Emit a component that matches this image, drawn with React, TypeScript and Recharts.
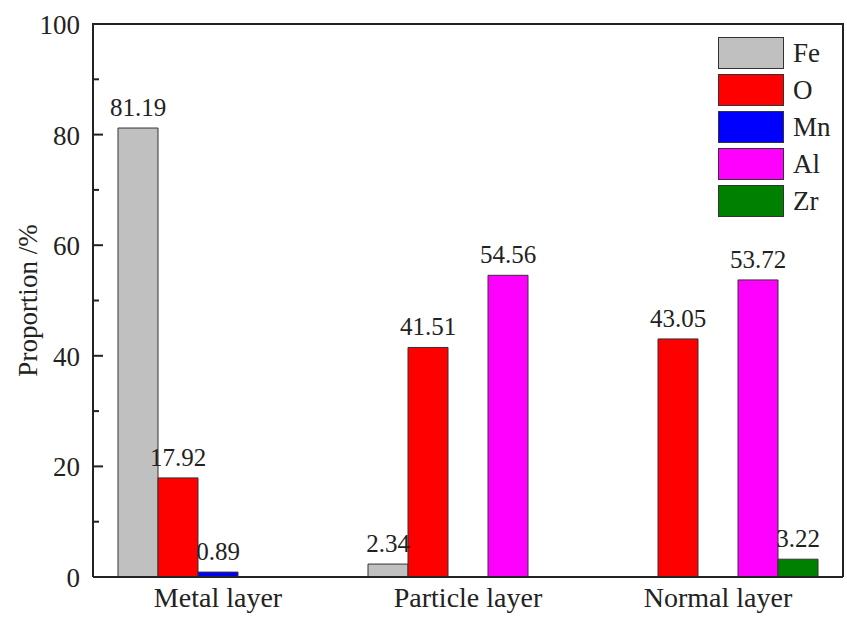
import { BarChart, Bar, XAxis, YAxis, LabelList } from "recharts";

const layers = ["Metal layer", "Particle layer", "Normal layer"];
const elements = ["Fe", "O", "Mn", "Al", "Zr"];
const colors = ["#C0C0C0", "#FF0000", "#0000FF", "#FF00FF", "#008000"];

const fe = [81.19, 2.34, null];
const o = [17.92, 41.51, 43.05];
const mn = [0.89, null, null];
const al = [null, 54.56, 53.72];
const zr = [null, null, 3.22];

const yTicks = [0, 10, 20, 30, 40, 50, 60, 70, 80, 90, 100];

const series = [fe, o, mn, al, zr];

const data = layers.map((layer, i) => {
  const row: Record<string, any> = { layer };
  elements.forEach((el, j) => {
    row[el] = series[j][i];
  });
  return row;
});

const FONT = "'Liberation Serif', 'DejaVu Serif', serif";
const AXIS = "#222";

const YTick = (props: any) => {
  const { x, y, payload } = props;
  const axisX = x + 13;
  const major = payload.value % 20 === 0;
  return (
    <g>
      <line x1={axisX} x2={axisX + (major ? 10 : 6)} y1={y} y2={y} stroke={AXIS} strokeWidth={2} />
      {major && (
        <text x={x} y={y} dy={10} textAnchor="end" fontSize={27} style={{ fontFamily: FONT }} fill="#222">
          {payload.value}
        </text>
      )}
    </g>
  );
};

const ValueLabel = (props: any) => {
  const { x, y, width, value } = props;
  if (value == null || value === 0) return null;
  return (
    <text x={x + width / 2} y={y - 12} textAnchor="middle" fontSize={25} style={{ fontFamily: FONT }} fill="#222">
      {Number(value).toFixed(2)}
    </text>
  );
};

const LegendBox = () => (
  <div style={{ fontFamily: FONT, position: "absolute", left: 718, top: 34 }}>
    {elements.map((el, i) => (
      <div key={el} style={{ display: "flex", alignItems: "center", height: 37 }}>
        <div
          style={{
            width: 64,
            height: 30,
            background: colors[i],
            border: "1px solid #333",
          }}
        />
        <span style={{ fontSize: 27, marginLeft: 9, color: "#222", lineHeight: "28px" }}>{el}</span>
      </div>
    ))}
  </div>
);

export default function App() {
  return (
    <div style={{ position: "absolute", left: 0, top: 0, width: 847, height: 619, background: "#fff", fontFamily: FONT }}>
      <BarChart
        width={847}
        height={619}
        data={data}
        margin={{ top: 24, right: 3, left: 0, bottom: 0 }}
        barCategoryGap="10%"
        barGap={0}
      >
        <XAxis
          dataKey="layer"
          tickLine={false}
          axisLine={{ stroke: AXIS, strokeWidth: 2 }}
          tick={{ fontSize: 28, fill: "#222", style: { fontFamily: FONT } }}
          tickMargin={4}
          height={42}
        />
        <YAxis
          domain={[0, 100]}
          ticks={yTicks}
          interval={0}
          tickLine={false}
          tickSize={0}
          tickMargin={13}
          tick={<YTick />}
          axisLine={{ stroke: AXIS, strokeWidth: 2 }}
          width={93}
          label={{
            value: "Proportion /%",
            angle: -90,
            position: "insideLeft",
            offset: 27,
            style: { fontSize: 27, fontFamily: FONT, fill: "#222", textAnchor: "middle" },
          }}
        />
        <YAxis
          yAxisId="right"
          orientation="right"
          domain={[0, 100]}
          tick={false}
          tickLine={false}
          axisLine={{ stroke: AXIS, strokeWidth: 2 }}
          width={1}
        />
        {elements.map((el, i) => (
          <Bar
            key={el}
            dataKey={el}
            fill={colors[i]}
            stroke="#333"
            strokeWidth={1}
            isAnimationActive={false}
          >
            <LabelList dataKey={el} content={<ValueLabel />} />
          </Bar>
        ))}
      </BarChart>
      {/* top frame edge of the plot box */}
      <div style={{ position: "absolute", left: 92, top: 23, width: 752, height: 2, background: AXIS }} />
      <LegendBox />
    </div>
  );
}
